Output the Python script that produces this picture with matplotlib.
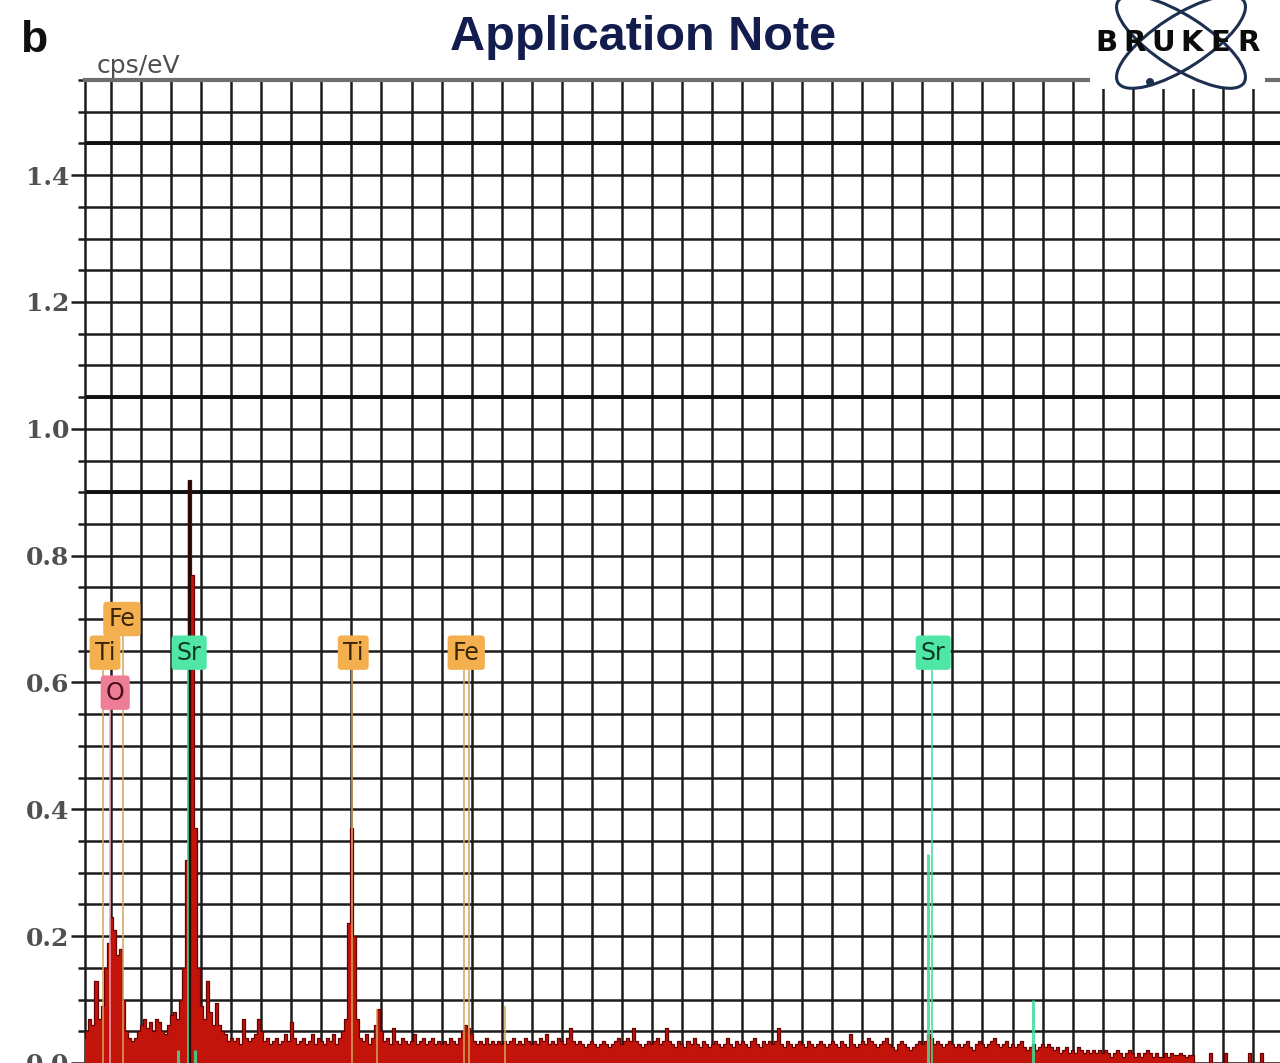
import matplotlib
matplotlib.use("Agg")
import matplotlib.pyplot as plt
import numpy as np
from matplotlib.patches import Ellipse, Rectangle, Circle
from matplotlib.ticker import MultipleLocator, FormatStrFormatter

# ---- data: EDS spectrum, 0.05 keV channels, cps/eV ----
channel_width = 0.05
counts = [
    # 0 - 1 keV
    0.02, 0.04, 0.05, 0.07, 0.06, 0.13, 0.07, 0.09, 0.15, 0.19,
    0.23, 0.21, 0.17, 0.18, 0.10, 0.05, 0.04, 0.035, 0.04, 0.05,
    # 1 - 2 keV
    0.06, 0.07, 0.055, 0.065, 0.05, 0.07, 0.065, 0.05, 0.045, 0.06,
    0.075, 0.08, 0.07, 0.10, 0.15, 0.32, 0.92, 0.77, 0.37, 0.15,
    # 2 - 3 keV
    0.09, 0.07, 0.13, 0.08, 0.06, 0.095, 0.06, 0.05, 0.045, 0.035,
    0.04, 0.035, 0.04, 0.03, 0.07, 0.04, 0.035, 0.04, 0.045, 0.07,
    # 3 - 4 keV
    0.05, 0.035, 0.04, 0.03, 0.035, 0.04, 0.03, 0.035, 0.045, 0.035,
    0.065, 0.04, 0.03, 0.035, 0.04, 0.03, 0.035, 0.045, 0.03, 0.04,
    # 4 - 5 keV
    0.035, 0.03, 0.04, 0.035, 0.045, 0.03, 0.04, 0.05, 0.07, 0.22,
    0.37, 0.20, 0.07, 0.04, 0.035, 0.045, 0.03, 0.04, 0.06, 0.085,
    # 5 - 6 keV
    0.05, 0.035, 0.04, 0.03, 0.055, 0.035, 0.03, 0.04, 0.035, 0.03,
    0.035, 0.045, 0.03, 0.035, 0.04, 0.03, 0.035, 0.04, 0.03, 0.035,
    # 6 - 7 keV
    0.03, 0.035, 0.03, 0.04, 0.035, 0.03, 0.04, 0.05, 0.06, 0.055,
    0.045, 0.035, 0.03, 0.035, 0.03, 0.04, 0.03, 0.035, 0.03, 0.035,
    # 7 - 8 keV
    0.03, 0.035, 0.03, 0.035, 0.04, 0.03, 0.035, 0.03, 0.04, 0.035,
    0.03, 0.035, 0.03, 0.04, 0.035, 0.045, 0.03, 0.035, 0.03, 0.04,
    # 8 - 9 keV
    0.035, 0.03, 0.04, 0.055, 0.035, 0.03, 0.035, 0.03, 0.025, 0.03,
    0.035, 0.03, 0.025, 0.03, 0.035, 0.03, 0.025, 0.03, 0.035, 0.04,
    # 9 - 10 keV
    0.03, 0.035, 0.04, 0.035, 0.055, 0.035, 0.03, 0.025, 0.03, 0.035,
    0.03, 0.035, 0.04, 0.03, 0.035, 0.055, 0.035, 0.03, 0.025, 0.035,
    # 10 - 11 keV
    0.03, 0.025, 0.035, 0.03, 0.04, 0.03, 0.025, 0.035, 0.03, 0.025,
    0.03, 0.035, 0.03, 0.025, 0.03, 0.04, 0.03, 0.025, 0.035, 0.03,
    # 11 - 12 keV
    0.035, 0.03, 0.025, 0.035, 0.04, 0.03, 0.025, 0.035, 0.03, 0.035,
    0.03, 0.035, 0.055, 0.03, 0.025, 0.035, 0.03, 0.025, 0.03, 0.035,
    # 12 - 13 keV
    0.03, 0.025, 0.035, 0.03, 0.025, 0.03, 0.035, 0.03, 0.025, 0.03,
    0.035, 0.03, 0.025, 0.035, 0.03, 0.025, 0.045, 0.03, 0.025, 0.03,
    # 13 - 14 keV
    0.035, 0.03, 0.04, 0.035, 0.03, 0.025, 0.03, 0.035, 0.04, 0.03,
    0.025, 0.02, 0.03, 0.035, 0.03, 0.025, 0.02, 0.025, 0.03, 0.035,
    # 14 - 15 keV
    0.03, 0.035, 0.045, 0.04, 0.03, 0.035, 0.03, 0.025, 0.03, 0.035,
    0.03, 0.025, 0.03, 0.025, 0.03, 0.035, 0.025, 0.02, 0.03, 0.035,
    # 15 - 16 keV
    0.03, 0.025, 0.03, 0.035, 0.04, 0.03, 0.025, 0.03, 0.035, 0.025,
    0.03, 0.025, 0.03, 0.035, 0.025, 0.02, 0.025, 0.03, 0.02, 0.025,
    # 16 - 17 keV
    0.03, 0.025, 0.03, 0.025, 0.02, 0.025, 0.015, 0.02, 0.025, 0.015,
    0.02, 0.015, 0.025, 0.02, 0.015, 0.02, 0.015, 0.02, 0.015, 0.02,
    # 17 - 18 keV
    0.015, 0.02, 0.015, 0.01, 0.015, 0.02, 0.015, 0.01, 0.015, 0.02,
    0.015, 0.01, 0.015, 0.01, 0.015, 0.02, 0.015, 0.01, 0.015, 0.01,
    # 18 - 19 keV
    0.01, 0.015, 0.01, 0.015, 0.012, 0.012, 0.015, 0.012, 0.01, 0.012,
    0.012, 0.0, 0.0, 0.0, 0.0, 0.0, 0.015, 0.0, 0.0, 0.0,
    # 19 - 20 keV
    0.0, 0.015, 0.0, 0.0, 0.0, 0.0, 0.0, 0.0, 0.0, 0.015,
    0.0, 0.0, 0.0, 0.015, 0.0, 0.0, 0.0, 0.0, 0.0, 0.0,
]
energy = np.arange(len(counts)) * channel_width   # keV

# element marker lines: energy (keV), top (cps/eV), element
line_energy = [0.37, 0.48, 0.70, 1.61, 1.78, 1.90, 4.51, 4.93,
               6.38, 6.45, 7.06, 14.10, 14.16, 15.84]
line_top = [0.62, 0.56, 0.675, 0.02, 0.62, 0.02, 0.62, 0.085,
            0.62, 0.62, 0.09, 0.33, 0.62, 0.10]
line_elem = ["Ti", "O", "Fe", "Sr", "Sr", "Sr", "Ti", "Ti",
             "Fe", "Fe", "Fe", "Sr", "Sr", "Sr"]

# element labels
label_text = ["Fe", "Ti", "O", "Sr", "Ti", "Fe", "Sr"]
label_x = [0.68, 0.40, 0.57, 1.80, 4.53, 6.41, 14.18]
label_y = [0.700, 0.647, 0.584, 0.647, 0.647, 0.647, 0.647]

elem_box = {"Ti": "#f4b04e", "Fe": "#f4b04e", "O": "#ee7d96", "Sr": "#4fe6a6"}
elem_line = {"Ti": "#d6a35c", "Fe": "#d6a35c", "O": "#ef9fb0", "Sr": "#3fdc9c"}
elem_txt = {"Ti": "#3b2608", "Fe": "#3b2608", "O": "#4a0c1c", "Sr": "#0e3a26"}

yticks = [0.0, 0.2, 0.4, 0.6, 0.8, 1.0, 1.2, 1.4]
thick_rows = [0.90, 1.05, 1.45]

W, H = 1280, 1063
fig = plt.figure(figsize=(W / 100, H / 100), dpi=100)
fig.patch.set_facecolor("white")

ax = fig.add_axes([85 / W, 0, 1195 / W, 983 / H])
ax.set_xlim(0.067, 19.95)
ax.set_ylim(0, 1.55)

grid_c = "#1c1c1c"
ax.set_xticks(np.arange(0.5, 20, 0.5))
ax.set_yticks(yticks)
ax.yaxis.set_minor_locator(MultipleLocator(0.05))
ax.yaxis.set_major_formatter(FormatStrFormatter("%.1f"))
ax.tick_params(axis="x", length=0, labelbottom=False)
ax.tick_params(axis="y", which="major", length=10, width=1.8, color=grid_c,
               pad=1, labelsize=18, labelcolor="#505050")
ax.tick_params(axis="y", which="minor", length=5, width=1.8, color=grid_c)
for lab in ax.get_yticklabels():
    lab.set_family("DejaVu Serif")
    lab.set_fontweight("bold")
ax.grid(True, axis="x", which="major", color=grid_c, lw=1.8)
ax.grid(True, axis="y", which="both", color=grid_c, lw=1.8)
ax.set_axisbelow(True)
for y in thick_rows:
    ax.axhline(y, color="#111111", lw=2.8, zorder=1.5)

for side in ["right", "bottom"]:
    ax.spines[side].set_visible(False)
ax.spines["left"].set_color(grid_c)
ax.spines["left"].set_linewidth(1.8)
ax.spines["top"].set_color("#6e6e6e")
ax.spines["top"].set_linewidth(3)

# spectrum
ax.fill_between(energy, counts, step="mid", color="#c2140a", lw=0, zorder=3)
ax.step(energy, counts, where="mid", color="#6a0000", lw=0.9, zorder=3.2)
# dark core of the strongest channel (Sr L)
i_max = int(np.argmax(counts))
ax.vlines(energy[i_max], 0, counts[i_max], color="#2a0804", lw=2.4, zorder=3.3)

# marker lines
for e, t, el in zip(line_energy, line_top, line_elem):
    lw = 2.2 if t < 0.5 and el == "Sr" else 1.3
    ax.vlines(e, 0, t, color=elem_line[el], lw=lw, alpha=0.85, zorder=3.5)

# labels
for txt, x, y in zip(label_text, label_x, label_y):
    ax.text(x, y, txt, ha="center", va="center", fontsize=17,
            color=elem_txt[txt], zorder=6,
            bbox=dict(boxstyle="round,pad=0.22,rounding_size=0.15",
                      fc=elem_box[txt], ec="none"))

# header texts
fig.text(20 / W, 1 - 52 / H, "b", fontsize=32, fontweight="bold",
         family="Liberation Sans", color="#111111", va="baseline")
fig.text(643 / W, 1 - 50 / H, "Application Note", fontsize=35,
         fontweight="bold", family="Liberation Sans", color="#131d4d",
         ha="center", va="baseline")
fig.text(97 / W, 1 - 73 / H, "cps/eV", fontsize=18, family="DejaVu Sans",
         color="#4e4e4e", va="baseline")

# logo
lg = fig.add_axes([1088 / W, 1 - 92 / H, 192 / W, 92 / H], zorder=10)
lg.set_xlim(0, 192)
lg.set_ylim(92, 0)
lg.axis("off")
lg.add_patch(Rectangle((2, 0), 175, 89, fc="white", ec="none"))
navy = "#1d3050"
lg.add_patch(Ellipse((93, 42), 150, 52, angle=33, fill=False, ec=navy, lw=2.2))
lg.add_patch(Ellipse((93, 42), 150, 52, angle=-33, fill=False, ec=navy, lw=2.2))
lg.add_patch(Circle((62, 82), 4, fc=navy, ec="none"))
for i, ch in enumerate("BRUKER"):
    lg.text(18 + i * 28.5, 43, ch, ha="center", va="center", fontsize=21,
            fontweight="heavy", family="DejaVu Sans", color="#0c0c0c")

fig.savefig("out.png", dpi=100)
